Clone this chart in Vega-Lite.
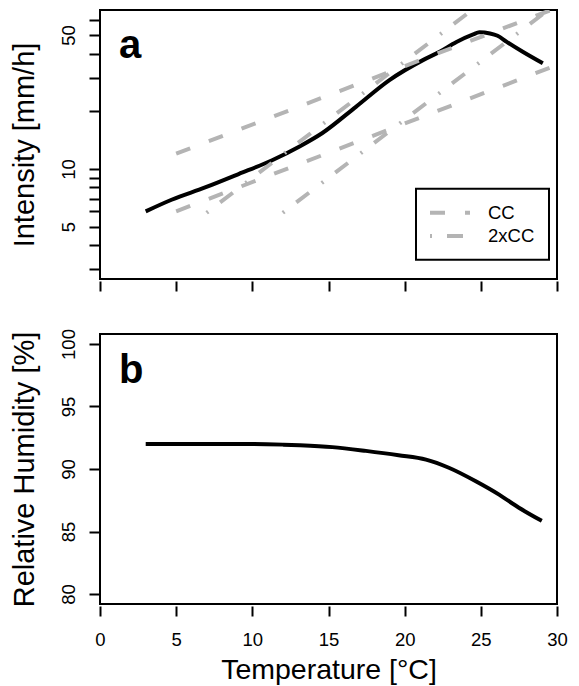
{
  "$schema": "https://vega.github.io/schema/vega-lite/v6.json",
  "padding": {"left": 8, "top": 9, "right": 5, "bottom": 5},
  "datasets": {
    "intensity": [
      {"T": 3.0, "I": 6.0}, {"T": 4.7, "I": 6.9}, {"T": 6.9, "I": 8.0}, {"T": 9.1, "I": 9.4},
      {"T": 11.3, "I": 11.1}, {"T": 13.1, "I": 13.1}, {"T": 14.6, "I": 15.4}, {"T": 16.8, "I": 21.1},
      {"T": 19.0, "I": 29.1}, {"T": 21.2, "I": 37.0}, {"T": 22.3, "I": 40.9}, {"T": 23.4, "I": 46.0},
      {"T": 24.5, "I": 50.4}, {"T": 24.9, "I": 51.7}, {"T": 25.6, "I": 51.0}, {"T": 26.1, "I": 49.6},
      {"T": 26.7, "I": 46.1}, {"T": 27.75, "I": 40.9}, {"T": 29.07, "I": 35.6}
    ],
    "ref": [
      {"line": "A", "kind": "CC", "T": 5, "I": 12.0}, {"line": "A", "kind": "CC", "T": 30, "I": 69.5},
      {"line": "B", "kind": "CC", "T": 5, "I": 6.0}, {"line": "B", "kind": "CC", "T": 30, "I": 34.9},
      {"line": "C", "kind": "2xCC", "T": 7, "I": 5.9}, {"line": "C", "kind": "2xCC", "T": 26, "I": 84.3},
      {"line": "D", "kind": "2xCC", "T": 12, "I": 5.9}, {"line": "D", "kind": "2xCC", "T": 30, "I": 73.3}
    ],
    "rh": [
      {"T": 3, "RH": 92.0}, {"T": 5, "RH": 92.0}, {"T": 8, "RH": 92.0}, {"T": 10, "RH": 92.0},
      {"T": 12, "RH": 91.95}, {"T": 13.1, "RH": 91.9}, {"T": 15.25, "RH": 91.75}, {"T": 17.45, "RH": 91.45},
      {"T": 19.6, "RH": 91.1}, {"T": 21.4, "RH": 90.75}, {"T": 22.9, "RH": 90.1}, {"T": 24.7, "RH": 89.0},
      {"T": 26.2, "RH": 87.95}, {"T": 27.5, "RH": 86.9}, {"T": 29.0, "RH": 85.85}
    ],
    "labA": [{"T": 1.25, "I": 37.8, "label": "a"}],
    "labB": [{"T": 1.25, "RH": 96.9, "label": "b"}]
  },
  "config": {
    "font": "Liberation Sans",
    "view": {"stroke": "black", "strokeWidth": 2},
    "axis": {
      "grid": false, "domain": false, "tickColor": "black", "tickWidth": 2, "tickSize": 10,
      "labelFont": "Liberation Sans", "labelFontSize": 18.5, "labelColor": "black",
      "titleFont": "Liberation Sans", "titleFontSize": 29, "titleFontWeight": "normal", "titleColor": "black",
      "labelOverlap": false, "labelFlush": false
    },
    "legend": {"strokeWidth": 2}
  },
  "spacing": 34,
  "resolve": {"scale": {"strokeDash": "independent"}, "legend": {"strokeDash": "independent"}},
  "vconcat": [
    {
      "width": 457, "height": 269,
      "layer": [
        {
          "data": {"name": "intensity"},
          "mark": {"type": "line", "color": "black", "strokeWidth": 4, "interpolate": "monotone"},
          "encoding": {
            "x": {"field": "T", "type": "quantitative", "scale": {"domain": [0, 30], "nice": false, "zero": false},
                  "axis": {"values": [0, 5, 10, 15, 20, 25, 30], "labels": false, "title": null, "offset": 2}},
            "y": {"field": "I", "type": "quantitative", "scale": {"type": "log", "domain": [2.66, 67.6], "nice": false},
                  "axis": {"values": [3, 4, 5, 6, 7, 8, 9, 10, 20, 30, 40, 50, 60], "format": "d",
                           "labelExpr": "(datum.value == 5 || datum.value == 10 || datum.value == 50) ? datum.label : ''",
                           "labelAngle": 270, "labelAlign": "center", "labelBaseline": "alphabetic", "labelPadding": 15,
                           "offset": 1, "title": "Intensity [mm/h]", "titlePadding": 20}}
          }
        },
        {
          "data": {"name": "ref"},
          "mark": {"type": "line", "clip": true, "color": "#b4b4b4", "strokeWidth": 4, "strokeCap": "butt"},
          "encoding": {
            "x": {"field": "T", "type": "quantitative"},
            "y": {"field": "I", "type": "quantitative"},
            "detail": {"field": "line", "type": "nominal"},
            "strokeDash": {
              "field": "kind", "type": "nominal",
              "scale": {"domain": ["CC", "2xCC"], "range": [[15, 20], [2, 15, 16, 16]]},
              "legend": {
                "title": null, "orient": "none", "legendX": 316, "legendY": 178.7, "padding": 14,
                "strokeColor": "black", "symbolType": "M-2.5,0H2.5", "symbolSize": 256,
                "symbolStrokeWidth": 4, "symbolStrokeColor": "#b4b4b4", "symbolOffset": 10,
                "labelOffset": 28, "labelFontSize": 18.5, "labelColor": "black", "labelFont": "Liberation Sans",
                "rowPadding": 3.3
              }
            }
          }
        },
        {
          "data": {"name": "labA"},
          "mark": {"type": "text", "fontSize": 40, "fontWeight": "bold", "align": "left", "baseline": "alphabetic", "color": "black"},
          "encoding": {
            "x": {"field": "T", "type": "quantitative"},
            "y": {"field": "I", "type": "quantitative"},
            "text": {"field": "label"}
          }
        }
      ]
    },
    {
      "width": 457, "height": 270,
      "layer": [
        {
          "data": {"name": "rh"},
          "mark": {"type": "line", "color": "black", "strokeWidth": 4, "interpolate": "monotone"},
          "encoding": {
            "x": {"field": "T", "type": "quantitative", "scale": {"domain": [0, 30], "nice": false, "zero": false},
                  "axis": {"values": [0, 5, 10, 15, 20, 25, 30], "title": "Temperature [°C]", "offset": 2,
                           "labelPadding": 14, "titlePadding": 7, "titleFontSize": 28.5}},
            "y": {"field": "RH", "type": "quantitative", "scale": {"domain": [79.2, 100.8], "nice": false, "zero": false},
                  "axis": {"values": [80, 85, 90, 95, 100],
                           "labelAngle": 270, "labelAlign": "center", "labelBaseline": "alphabetic", "labelPadding": 15,
                           "offset": 1, "title": "Relative Humidity [%]", "titlePadding": 20}}
          }
        },
        {
          "data": {"name": "labB"},
          "mark": {"type": "text", "fontSize": 40, "fontWeight": "bold", "align": "left", "baseline": "alphabetic", "color": "black"},
          "encoding": {
            "x": {"field": "T", "type": "quantitative"},
            "y": {"field": "RH", "type": "quantitative"},
            "text": {"field": "label"}
          }
        }
      ]
    }
  ]
}
